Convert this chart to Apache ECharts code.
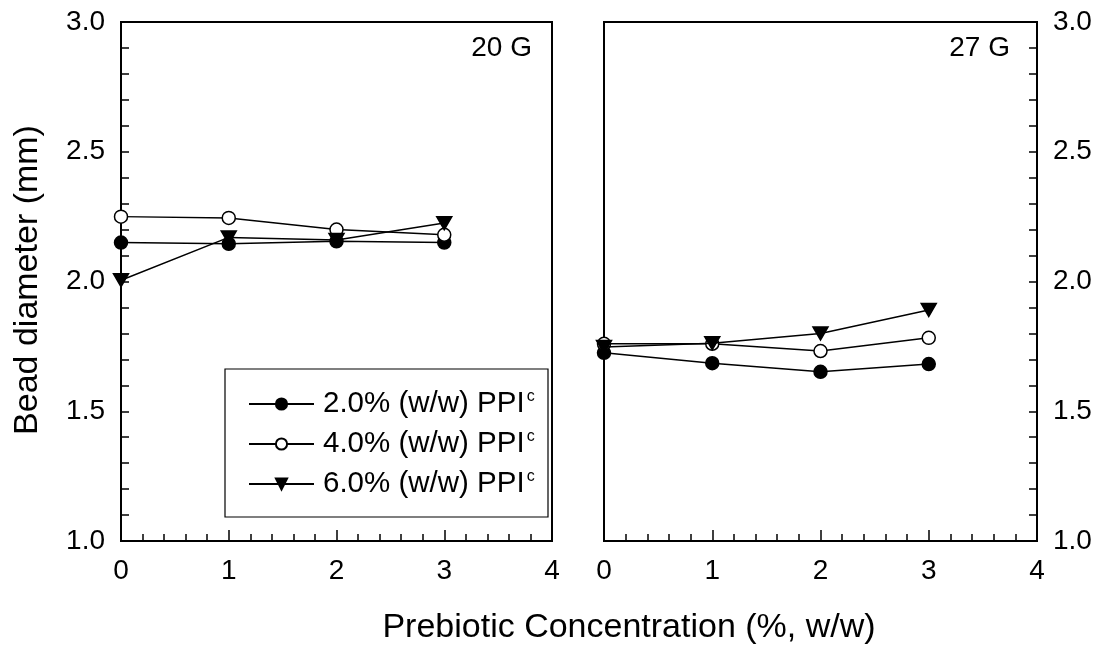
<!DOCTYPE html>
<html>
<head>
<meta charset="utf-8">
<script src="https://cdn.jsdelivr.net/npm/echarts@6/dist/echarts.min.js"></script>
<style>
html,body{margin:0;padding:0;background:#fff;}
#chart{width:1103px;height:649px;}
</style>
</head>
<body>
<div id="chart"></div>
<script>
// ---- data ----
var concentration = [0, 1, 2, 3];
var seriesNames = ['2.0% (w/w) PPI', '4.0% (w/w) PPI', '6.0% (w/w) PPI'];
var g20_ppi2 = [2.15, 2.145, 2.155, 2.15];
var g20_ppi4 = [2.25, 2.245, 2.20, 2.18];
var g20_ppi6 = [2.005, 2.17, 2.16, 2.225];
var g27_ppi2 = [1.725, 1.685, 1.652, 1.682];
var g27_ppi4 = [1.76, 1.76, 1.732, 1.783];
var g27_ppi6 = [1.748, 1.762, 1.80, 1.89];
var panelLabels = ['20 G', '27 G'];
var xTicks = [0, 1, 2, 3, 4];
var yTicks = [1.0, 1.5, 2.0, 2.5, 3.0];

var FONT = 'Liberation Sans, Arial, sans-serif';
var chart = echarts.init(document.getElementById('chart'), null, {renderer: 'canvas'});

function pairs(vals) { return concentration.map(function (c, i) { return [c, vals[i]]; }); }

var triDown = 'path://M0,0 L14,0 L7,12 Z';
var styles = [
  {symbol: 'circle', size: 13, fill: '#000'},
  {symbol: 'circle', size: 13, fill: '#fff'},
  {symbol: triDown, size: [15, 13], fill: '#000'}
];
var panelData = [[g20_ppi2, g20_ppi4, g20_ppi6], [g27_ppi2, g27_ppi4, g27_ppi6]];

var series = [];
for (var p = 0; p < 2; p++) {
  for (var s = 0; s < 3; s++) {
    series.push({
      type: 'line',
      name: seriesNames[s],
      xAxisIndex: p,
      yAxisIndex: p,
      data: pairs(panelData[p][s]),
      symbol: styles[s].symbol,
      symbolSize: styles[s].size,
      showAllSymbol: true,
      lineStyle: {color: '#000', width: 1.5},
      itemStyle: {color: styles[s].fill, borderColor: '#000', borderWidth: 1.5},
      emphasis: {disabled: true},
      animation: false,
      z: 3 + s
    });
  }
}

function xAxis(gi) {
  return {
    type: 'value', gridIndex: gi, min: 0, max: 4, interval: 1,
    axisLine: {show: true, onZero: false, lineStyle: {color: '#000', width: 2}},
    axisTick: {show: true, inside: true, length: 11, lineStyle: {color: '#000', width: 1.5}},
    minorTick: {show: true, splitNumber: 5, length: 7, lineStyle: {color: '#000', width: 1.5}},
    axisLabel: {show: true, fontFamily: FONT, fontSize: 28, color: '#000', margin: 16,
      formatter: function (v) { return xTicks.indexOf(v) >= 0 ? String(v) : ''; }},
    splitLine: {show: false}, minorSplitLine: {show: false}
  };
}
function yAxis(gi, pos) {
  return {
    type: 'value', gridIndex: gi, min: 1, max: 3, interval: 0.5, position: pos,
    axisLine: {show: true, onZero: false, lineStyle: {color: '#000', width: 2}},
    axisTick: {show: true, inside: true, length: 8, lineStyle: {color: '#000', width: 1.5}},
    minorTick: {show: true, splitNumber: 5, length: 8, lineStyle: {color: '#000', width: 1.5}},
    axisLabel: {show: true, fontFamily: FONT, fontSize: 28, color: '#000', margin: 16,
      formatter: function (v) { return v.toFixed(1); }},
    splitLine: {show: false}, minorSplitLine: {show: false}
  };
}

var option = {
  backgroundColor: '#fff',
  animation: false,
  grid: [
    {left: 121, right: 551, top: 22, bottom: 108, show: true, borderColor: '#000', borderWidth: 2, backgroundColor: 'transparent'},
    {left: 604, right: 66, top: 22, bottom: 108, show: true, borderColor: '#000', borderWidth: 2, backgroundColor: 'transparent'}
  ],
  xAxis: [xAxis(0), xAxis(1)],
  yAxis: [yAxis(0, 'left'), yAxis(1, 'right')],
  legend: {
    data: seriesNames,
    orient: 'vertical',
    left: 243, top: 384,
    itemWidth: 65, itemHeight: 14, itemGap: 10,
    selectedMode: false,
    textStyle: {
      fontFamily: FONT, fontSize: 29.5, color: '#000', padding: [0, 0, 0, 4], lineHeight: 30,
      rich: {
        n: {fontFamily: FONT, fontSize: 29.5, color: '#000', lineHeight: 30},
        s: {fontFamily: FONT, fontSize: 16, color: '#000', verticalAlign: 'top', lineHeight: 30, padding: [0, 0, 12, 2]}
      }
    },
    formatter: function (name) { return '{n|' + name + '}{s|c}'; }
  },
  graphic: [
    {type: 'rect', shape: {x: 225, y: 369, width: 323, height: 148}, style: {fill: 'none', stroke: '#000', lineWidth: 1.2}, z: 1},
    {type: 'text', x: 532, y: 48, style: {text: panelLabels[0], font: '28px ' + FONT, fill: '#000', textAlign: 'right', textVerticalAlign: 'middle'}},
    {type: 'text', x: 1010, y: 48, style: {text: panelLabels[1], font: '28px ' + FONT, fill: '#000', textAlign: 'right', textVerticalAlign: 'middle'}},
    {type: 'text', x: 629, y: 628, style: {text: 'Prebiotic Concentration (%, w/w)', font: '34px ' + FONT, fill: '#000', textAlign: 'center', textVerticalAlign: 'middle'}},
    {type: 'text', x: 28, y: 280, rotation: Math.PI / 2, style: {text: 'Bead diameter (mm)', font: '34px ' + FONT, fill: '#000', textAlign: 'center', textVerticalAlign: 'middle'}}
  ],
  series: series
};
chart.setOption(option);
</script>
</body>
</html>
